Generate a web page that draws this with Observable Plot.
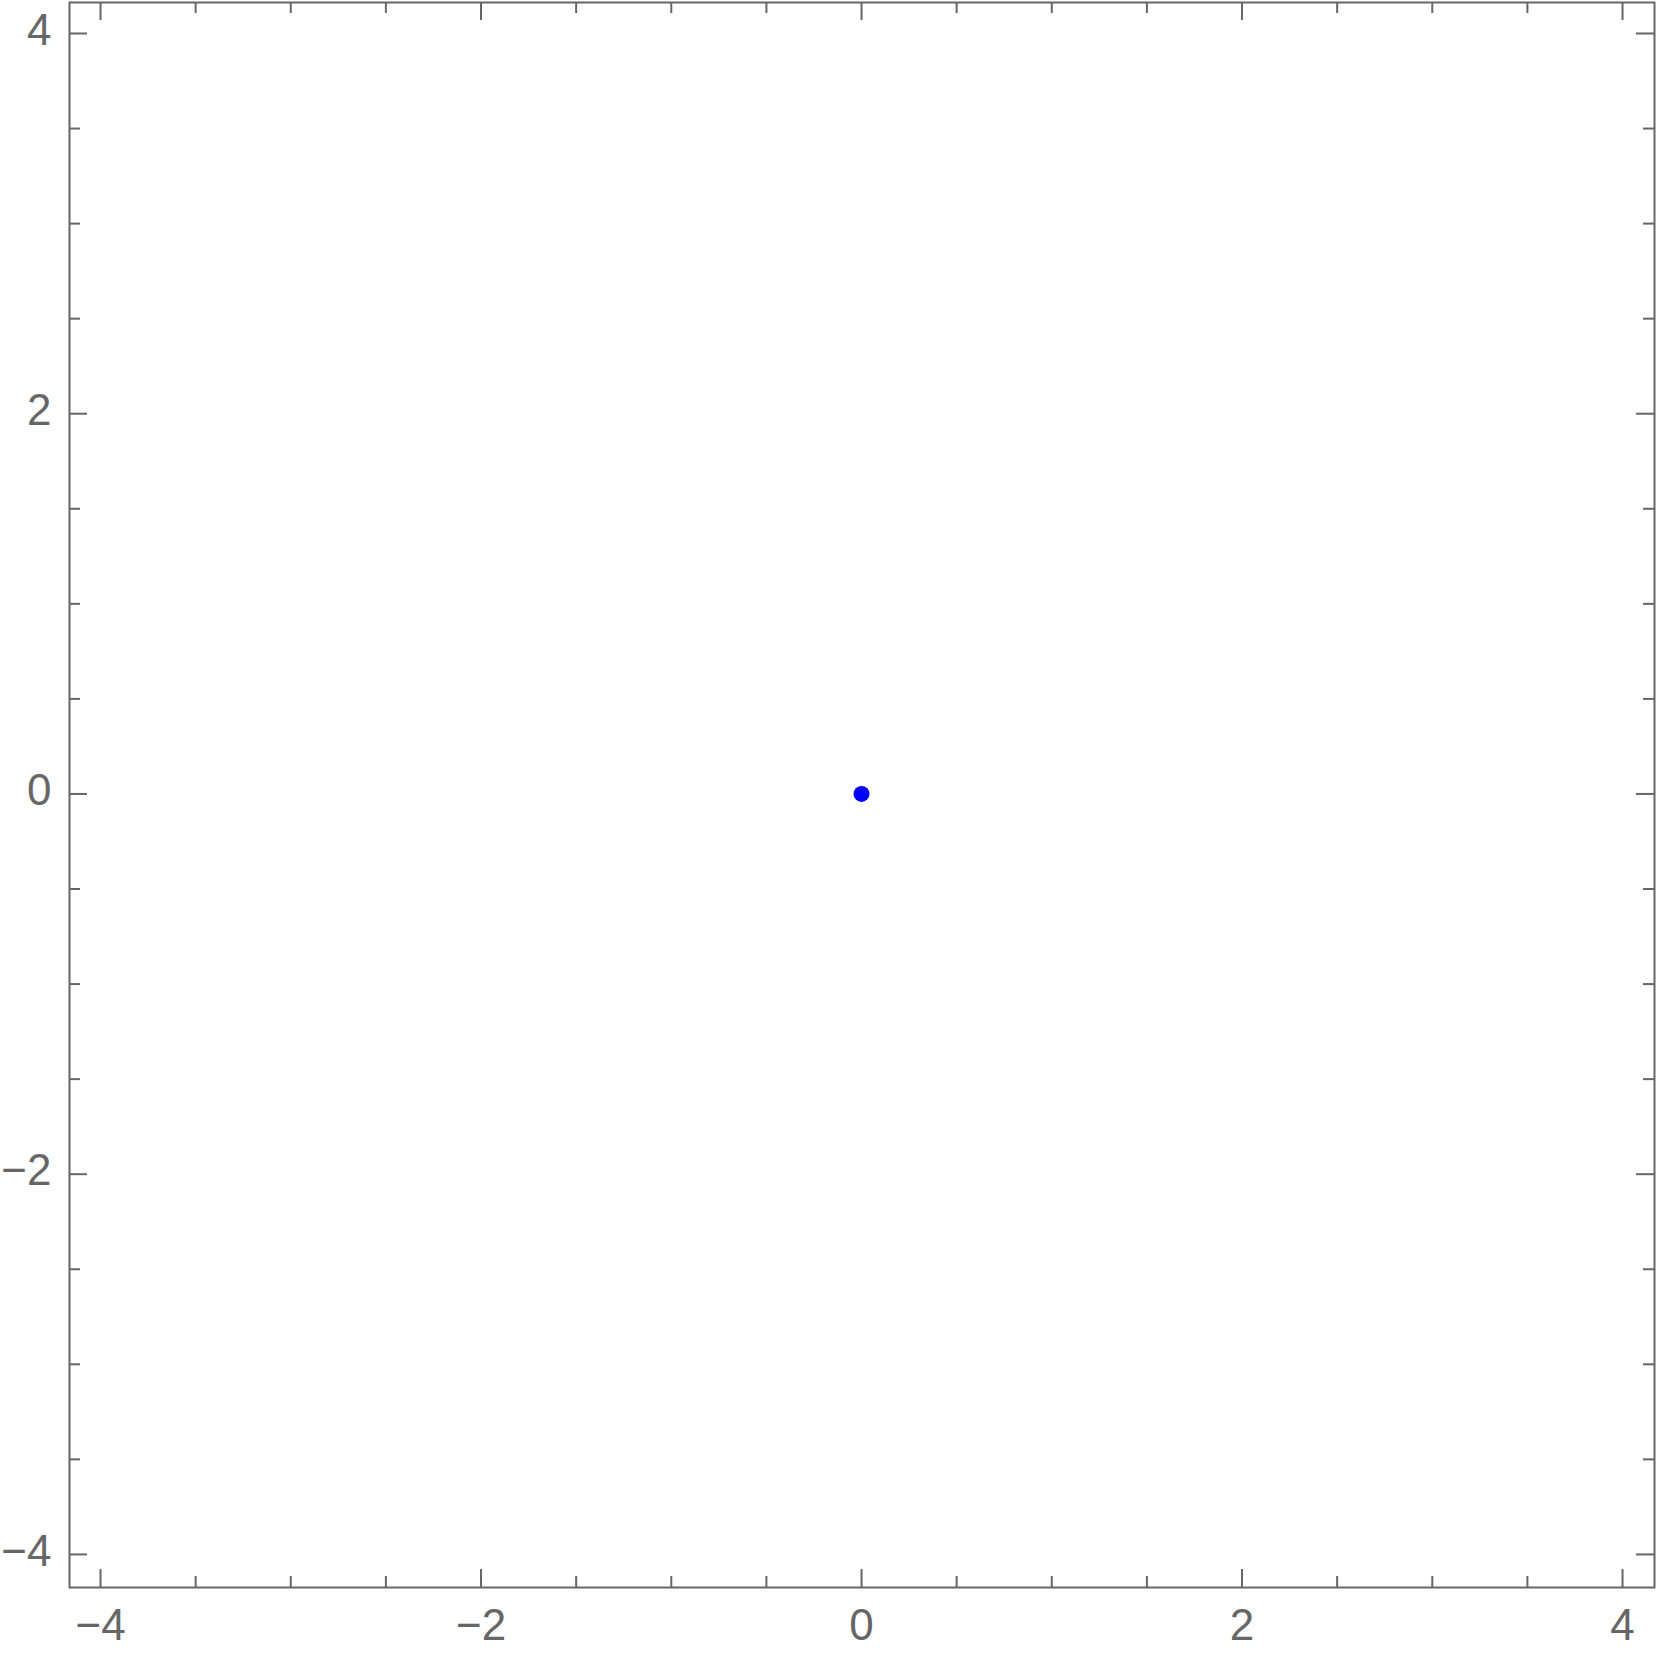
<!DOCTYPE html>
<html>
<head>
<meta charset="utf-8">
<script src="https://cdn.jsdelivr.net/npm/d3@7"></script>
<script src="https://cdn.jsdelivr.net/npm/@observablehq/plot@0.6"></script>
<style>
  html, body { margin: 0; padding: 0; background: #fff; }
  #chart svg { display: block; }
</style>
</head>
<body>
<div id="chart"></div>
<script>
// Data
const pointX = [0];
const pointY = [0];
const majorTicks = [-4, -2, 0, 2, 4];
const minorTicks = [-3.5, -3, -2.5, -1.5, -1, -0.5, 0.5, 1, 1.5, 2.5, 3, 3.5];
const xDomain = [-4.163, 4.168];
const yDomain = [-4.174, 4.163];

const W = 1661, H = 1665;
const mL = 69, mR = 7, mT = 2, mB = 78;
const innerW = W - mL - mR, innerH = H - mT - mB;
const axisColor = "#666666";
const majorLen = 18, minorLen = 11;
const fmt = d3.format("d");

const points = pointX.map((x, i) => ({x, y: pointY[i]}));

function xTicks(data, len) {
  return [
    Plot.ruleX(data, {x: d => d, stroke: axisColor, strokeWidth: 2, insetTop: innerH - len}),
    Plot.ruleX(data, {x: d => d, stroke: axisColor, strokeWidth: 2, insetBottom: innerH - len})
  ];
}
function yTicks(data, len) {
  return [
    Plot.ruleY(data, {y: d => d, stroke: axisColor, strokeWidth: 2, insetRight: innerW - len}),
    Plot.ruleY(data, {y: d => d, stroke: axisColor, strokeWidth: 2, insetLeft: innerW - len})
  ];
}

const chart = Plot.plot({
  width: W,
  height: H,
  marginLeft: mL,
  marginRight: mR,
  marginTop: mT,
  marginBottom: mB,
  style: {fontFamily: "'Liberation Sans', Arial, sans-serif", fontSize: "44px", background: "#fff", color: axisColor},
  x: {domain: xDomain},
  y: {domain: yDomain},
  marks: [
    ...xTicks(majorTicks, majorLen),
    ...xTicks(minorTicks, minorLen),
    ...yTicks(majorTicks, majorLen),
    ...yTicks(minorTicks, minorLen),
    Plot.frame({stroke: axisColor, strokeWidth: 2}),
    Plot.axisX(majorTicks, {anchor: "bottom", tickSize: 0, tickPadding: 21, tickFormat: fmt, fill: axisColor, fontSize: 44, label: null}),
    Plot.axisY(majorTicks, {anchor: "left", tickSize: 0, tickPadding: 18, dy: -3, tickFormat: fmt, fill: axisColor, fontSize: 44, label: null}),
    Plot.dot(points, {x: "x", y: "y", r: 8, fill: "#0000ff", stroke: null})
  ]
});
document.getElementById("chart").appendChild(chart);
</script>
</body>
</html>
